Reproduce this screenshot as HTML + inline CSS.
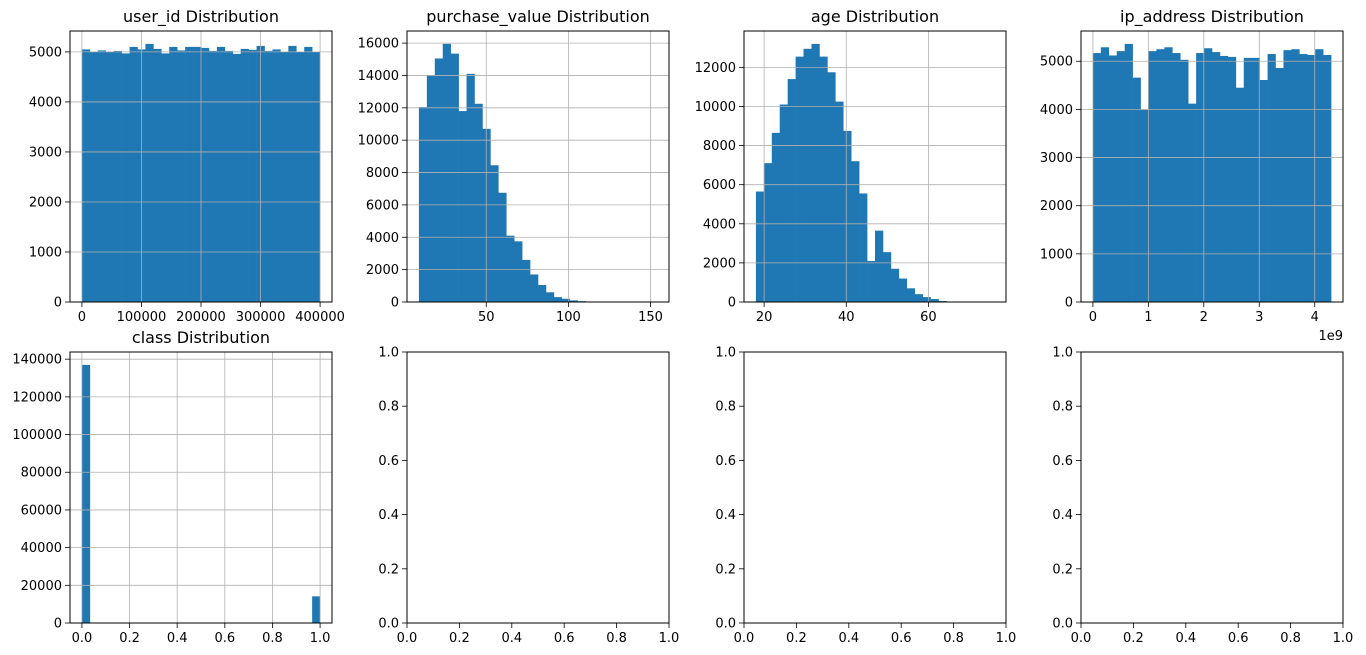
<!DOCTYPE html>
<html><head><meta charset="utf-8"><style>
body{margin:0;background:#fff;}
svg{display:block;font-family:"DejaVu Sans","Liberation Sans",sans-serif;}
</style></head><body>
<svg id="fig" width="1366" height="655" viewBox="0 0 1366 655" xmlns="http://www.w3.org/2000/svg"></svg>
<script>
const userIdCounts=[5050,5000,5030,5000,5020,4970,5100,5050,5160,5060,4970,5100,5030,5100,5100,5080,5020,5100,5020,4960,5060,5040,5120,5020,5050,5000,5120,5000,5100,5000];
const purchaseCounts=[12050,14000,15050,15950,15350,11800,14100,12250,10700,8450,6750,4100,3750,2600,1700,1050,600,300,200,100,50,20,10,5,3,2,1,0,0,1];
const ageCounts=[5650,7100,8650,10100,11400,12550,12950,13200,12550,11750,10250,8750,7200,5550,2100,3650,2550,1700,1200,700,400,250,150,50,20,10,5,2,1,1];
const ipCounts=[5170,5290,5120,5210,5360,4660,3990,5210,5250,5290,5170,5030,4120,5170,5270,5190,5110,5090,4450,5070,5070,4610,5150,4860,5230,5250,5150,5130,5250,5130];
const classCounts=[136961,0,0,0,0,0,0,0,0,0,0,0,0,0,0,0,0,0,0,0,0,0,0,0,0,0,0,0,0,14151];
const userIdTicks=[0,100000,200000,300000,400000];
const purchaseXTicks=[50,100,150];
const ageXTicks=[20,40,60];
const ipXTicks=[0,1,2,3,4];
const unitTicks=[0,0.2,0.4,0.6,0.8,1.0];
const userIdYTicks=[0,1000,2000,3000,4000,5000];
const purchaseYTicks=[0,2000,4000,6000,8000,10000,12000,14000,16000];
const ageYTicks=[0,2000,4000,6000,8000,10000,12000];
const ipYTicks=[0,1000,2000,3000,4000,5000];
const classYTicks=[0,20000,40000,60000,80000,100000,120000,140000];

const NS="http://www.w3.org/2000/svg";
const svg=document.getElementById('fig');
function mk(tag,attrs,parent){const e=document.createElementNS(NS,tag);for(const k in attrs)e.setAttribute(k,attrs[k]);(parent||svg).appendChild(e);return e;}

function panel(o){
  const g=mk('g',{});
  
  
  const L=o.x,R=o.x+262,T=o.y,B=o.y+271;
  const xr=o.xmax-o.xmin, x0=o.xmin-0.05*xr, x1=o.xmax+0.05*xr;
  const X=v=>L+(v-x0)/(x1-x0)*(R-L);
  const ymax=o.ymax;
  const Y=v=>B-v/ymax*(B-T);
  if(o.counts){
    const n=o.counts.length,w=(o.xmax-o.xmin)/n;
    o.counts.forEach((c,i)=>{
      if(c<=0)return;
      const r=mk('rect',{x:X(o.xmin+i*w),y:Y(c),width:X(o.xmin+(i+1)*w)-X(o.xmin+i*w)+0.3,height:B-Y(c),fill:'#1f77b4'},g);
      
      
    });
  }
  o.xt.forEach((t,i)=>{
    const px=X(t);
    if(o.grid)mk('line',{x1:px,x2:px,y1:T,y2:B,stroke:'#b0b0b0','stroke-width':0.8},g);
    mk('line',{x1:px,x2:px,y1:B,y2:B+5,stroke:'#000','stroke-width':0.8},g);
    const tx=mk('text',{x:px,y:B+19,'text-anchor':'middle','font-size':13,fill:'#000'},g);
    tx.textContent=o.xl?o.xl[i]:String(t);
  });
  o.yt.forEach((t,i)=>{
    const py=Y(t);
    if(o.grid)mk('line',{x1:L,x2:R,y1:py,y2:py,stroke:'#b0b0b0','stroke-width':0.8},g);
    mk('line',{x1:L-5,x2:L,y1:py,y2:py,stroke:'#000','stroke-width':0.8},g);
    const tx=mk('text',{x:L-8,y:py+4.5,'text-anchor':'end','font-size':13,fill:'#000'},g);
    tx.textContent=o.yl?o.yl[i]:String(t);
  });
  mk('rect',{x:L,y:T,width:R-L,height:B-T,fill:'none',stroke:'#000','stroke-width':1},g);
  if(o.title){const t=mk('text',{x:(L+R)/2,y:T-9,'text-anchor':'middle','font-size':16,fill:'#000'},g);t.textContent=o.title;}
  if(o.offset){const t=mk('text',{x:R,y:B+38,'text-anchor':'end','font-size':13,fill:'#000'},g);t.textContent=o.offset;}
}
const mx=a=>Math.max(...a)*1.05;
panel({name:'user-id-histogram',x:70,y:31,xmin:2,xmax:400000,counts:userIdCounts,ymax:mx(userIdCounts),xt:userIdTicks,yt:userIdYTicks,grid:true,title:'user_id Distribution'});
panel({name:'purchase-value-histogram',x:407,y:31,xmin:9,xmax:154,counts:purchaseCounts,ymax:mx(purchaseCounts),xt:purchaseXTicks,yt:purchaseYTicks,grid:true,title:'purchase_value Distribution'});
panel({name:'age-histogram',x:744,y:31,xmin:18,xmax:76,counts:ageCounts,ymax:mx(ageCounts),xt:ageXTicks,yt:ageYTicks,grid:true,title:'age Distribution'});
panel({name:'ip-address-histogram',x:1081,y:31,xmin:0.0000522,xmax:4.295,counts:ipCounts,ymax:mx(ipCounts),xt:ipXTicks,yt:ipYTicks,grid:true,title:'ip_address Distribution',offset:'1e9'});
panel({name:'class-histogram',x:70,y:352,xmin:0,xmax:1,counts:classCounts,ymax:mx(classCounts),xt:unitTicks,xl:['0.0','0.2','0.4','0.6','0.8','1.0'],yt:classYTicks,grid:true,title:'class Distribution'});
const ul=['0.0','0.2','0.4','0.6','0.8','1.0'];
[407,744,1081].forEach((x,i)=>{
  panel({name:'empty-axes-'+(i+1),x:x,y:352,xmin:0.0454545,xmax:0.9545455,ymax:1,xt:unitTicks,xl:ul,yt:unitTicks,yl:ul,grid:false});
});
</script>
</body></html>
